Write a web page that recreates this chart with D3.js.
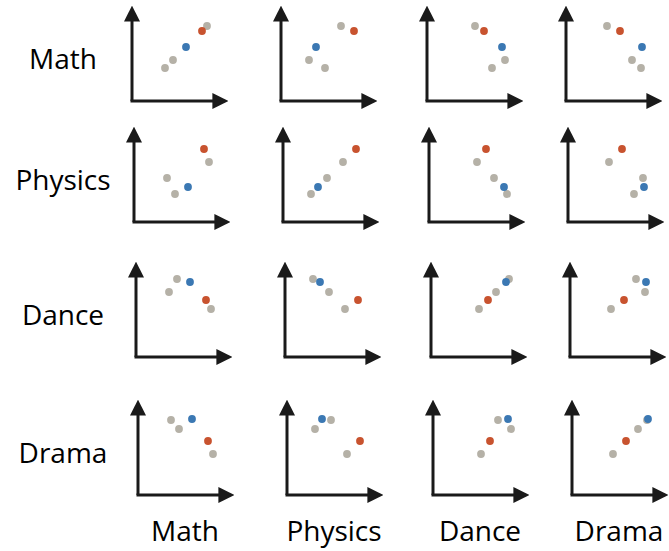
<!DOCTYPE html>
<html>
<head>
<meta charset="utf-8">
<script src="https://cdn.jsdelivr.net/npm/d3@7"></script>
<style>
  body { margin: 0; background: #fff; }
  text { font-family: "Open Sans", sans-serif; fill: #000; }
</style>
</head>
<body>
<div id="chart"></div>
<script>
// Subjects (rows = y variable, columns = x variable)
const subjects = ["Math", "Physics", "Dance", "Drama"];

// Five students, scores per subject
const students = ["A", "B", "C", "Blue", "Red"];
const mathScores    = [33, 41, 75, 54, 70];
const physicsScores = [44, 28, 60, 35, 73];
const danceScores   = [65, 78, 48, 75, 57];
const dramaScores   = [75, 66, 41, 76, 54];
const groups = ["other", "other", "other", "blue", "red"];

const width = 669, height = 551;
const axisLen = 97;

const data = students.map((s, i) => ({
    name: s,
    group: groups[i],
    Math: mathScores[i],
    Physics: physicsScores[i],
    Dance: danceScores[i],
    Drama: dramaScores[i]
}));
// greys underneath, highlighted dots on top
data.sort((a, b) => (a.group === "other" ? 0 : 1) - (b.group === "other" ? 0 : 1));

const color = d3.scaleOrdinal()
    .domain(["other", "blue", "red"])
    .range(["#b5b1a7", "#3b78b3", "#c8532f"]);

// cell corner positions
const colX = d3.scaleOrdinal().domain(subjects).range([132, 281, 427, 566]);
const rowY = d3.scaleOrdinal().domain(subjects).range([101, 222, 357, 495]);
const rowShift = d3.scaleOrdinal().domain(subjects).range([0, 2, 4, 6]);

const svg = d3.select("#chart").append("svg")
    .attr("width", width)
    .attr("height", height);

const defs = svg.append("defs");
defs.append("marker")
    .attr("id", "arrow")
    .attr("viewBox", "0 0 10 10")
    .attr("refX", 1)
    .attr("refY", 5)
    .attr("markerUnits", "userSpaceOnUse")
    .attr("markerWidth", 16)
    .attr("markerHeight", 17)
    .attr("orient", "auto")
    .append("path")
    .attr("d", "M0,0L10,5L0,10Z")
    .attr("fill", "#1a1a1a");

const cells = d3.cross(subjects, subjects).map(([row, col]) => ({ row, col }));

const cell = svg.selectAll(".cell")
    .data(cells)
    .enter()
    .append("g")
    .attr("class", "cell")
    .attr("transform", d => `translate(${colX(d.col) + rowShift(d.row)},${rowY(d.row)})`);

const x = d3.scaleLinear().domain([0, 100]).range([0, 100]);
const y = d3.scaleLinear().domain([0, 100]).range([0, -100]);

// axes with arrowheads
cell.append("path")
    .attr("d", `M0,0V${-axisLen + 16}`)
    .attr("stroke", "#1a1a1a")
    .attr("stroke-width", 3)
    .attr("fill", "none")
    .attr("marker-end", "url(#arrow)");

cell.append("path")
    .attr("d", `M-1.5,0H${axisLen - 15}`)
    .attr("stroke", "#1a1a1a")
    .attr("stroke-width", 3)
    .attr("fill", "none")
    .attr("marker-end", "url(#arrow)");

// dots
cell.selectAll(".dot")
    .data(d => data.map(p => ({ p, row: d.row, col: d.col })))
    .enter()
    .append("circle")
    .attr("class", "dot")
    .attr("cx", d => x(d.p[d.col]))
    .attr("cy", d => y(d.p[d.row]))
    .attr("r", 3.9)
    .attr("fill", d => color(d.p.group));

// row labels
svg.selectAll(".row-label")
    .data(subjects)
    .enter()
    .append("text")
    .attr("class", "row-label")
    .attr("x", 63)
    .attr("y", d => rowY(d) - 43)
    .attr("text-anchor", "middle")
    .attr("dominant-baseline", "central")
    .style("font-size", "28px")
    .text(d => d);

// column labels
svg.selectAll(".col-label")
    .data(subjects)
    .enter()
    .append("text")
    .attr("class", "col-label")
    .attr("x", d => colX(d) + rowShift("Drama") + 47)
    .attr("y", 530)
    .attr("text-anchor", "middle")
    .attr("dominant-baseline", "central")
    .style("font-size", "28px")
    .text(d => d);
</script>
</body>
</html>
